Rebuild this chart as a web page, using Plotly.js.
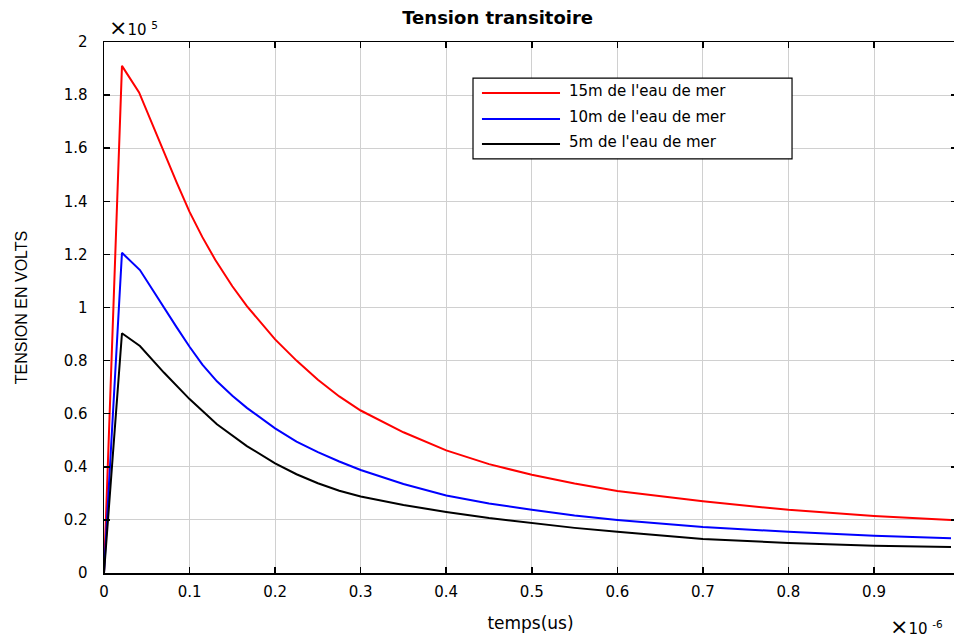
<!DOCTYPE html>
<html>
<head>
<meta charset="utf-8">
<script src="https://cdn.plot.ly/plotly-3.0.1.min.js"></script>
<style>
html,body{margin:0;padding:0;background:#fff;overflow:hidden;width:954px;height:640px;}
#chart{width:957px;height:640px;}
</style>
</head>
<body>
<div id="chart"></div>
<script>
// time in units of 1e-6 s, tension in units of 1e5 V
var tRed   = [0, 0.021, 0.041, 0.055, 0.069, 0.085, 0.1, 0.115, 0.13, 0.15, 0.167, 0.185, 0.2, 0.225, 0.25, 0.275, 0.3, 0.35, 0.4, 0.45, 0.5, 0.55, 0.6, 0.7, 0.8, 0.9, 0.99];
var vRed   = [0, 1.91, 1.81, 1.70, 1.59, 1.47, 1.36, 1.265, 1.18, 1.08, 1.005, 0.935, 0.88, 0.80, 0.728, 0.665, 0.612, 0.53, 0.462, 0.41, 0.37, 0.337, 0.309, 0.27, 0.238, 0.215, 0.2];
var tBlue  = [0, 0.021, 0.042, 0.055, 0.069, 0.085, 0.1, 0.115, 0.132, 0.15, 0.167, 0.185, 0.2, 0.225, 0.25, 0.275, 0.3, 0.35, 0.4, 0.45, 0.5, 0.55, 0.6, 0.7, 0.8, 0.9, 0.99];
var vBlue  = [0, 1.206, 1.141, 1.075, 1.003, 0.925, 0.852, 0.785, 0.722, 0.668, 0.622, 0.58, 0.545, 0.495, 0.455, 0.42, 0.388, 0.335, 0.292, 0.262, 0.238, 0.217, 0.2, 0.173, 0.155, 0.14, 0.131];
var tBlack = [0, 0.021, 0.042, 0.07, 0.1, 0.132, 0.167, 0.2, 0.225, 0.25, 0.275, 0.3, 0.35, 0.4, 0.45, 0.5, 0.55, 0.6, 0.7, 0.8, 0.9, 0.99];
var vBlack = [0, 0.903, 0.855, 0.755, 0.655, 0.56, 0.478, 0.413, 0.372, 0.338, 0.31, 0.288, 0.256, 0.23, 0.207, 0.188, 0.17, 0.155, 0.128, 0.113, 0.103, 0.098];
var seriesNames = ["15m de l'eau de mer", "10m de l'eau de mer", "5m de l'eau de mer"];
var seriesColors = ["#ff0000", "#0000ff", "#000000"];
var xTicks = [0, 0.1, 0.2, 0.3, 0.4, 0.5, 0.6, 0.7, 0.8, 0.9, 1];
var yTicks = [0, 0.2, 0.4, 0.6, 0.8, 1, 1.2, 1.4, 1.6, 1.8, 2];

var xs = [tRed, tBlue, tBlack];
var ys = [vRed, vBlue, vBlack];
var traces = xs.map(function(x, i){
  return {x: x, y: ys[i], type: 'scatter', mode: 'lines', name: seriesNames[i],
          line: {color: seriesColors[i], width: 2}, showlegend: false};
});

// custom legend box (matlab style)
var L = {x0: 0.4326, x1: 0.8066, y0: 0.780, y1: 0.932, lx0: 0.4431, lx1: 0.5346, tx: 0.5428, rows: [0.904, 0.855, 0.808]};
var shapes = [{type: 'rect', xref: 'paper', yref: 'paper', x0: L.x0, x1: L.x1, y0: L.y0, y1: L.y1,
               fillcolor: '#ffffff', line: {color: '#000000', width: 1.2}, layer: 'above'}];
var annotations = [];
seriesNames.forEach(function(n, i){
  shapes.push({type: 'line', xref: 'paper', yref: 'paper', x0: L.lx0, x1: L.lx1, y0: L.rows[i], y1: L.rows[i],
               line: {color: seriesColors[i], width: 2}, layer: 'above'});
  annotations.push({xref: 'paper', yref: 'paper', x: L.tx, y: L.rows[i] + 0.003, xanchor: 'left', yanchor: 'middle',
               text: n, showarrow: false, font: {family: 'DejaVu Sans', size: 15, color: '#000'}});
});
annotations.push({xref: 'paper', yref: 'paper', x: 0.003, y: 1.0, xanchor: 'left', yanchor: 'bottom',
  text: '<span style="font-size:22px">×</span>10 <sup>5</sup>', showarrow: false,
  font: {family: 'DejaVu Sans', size: 15, color: '#000'}});
annotations.push({xref: 'paper', yref: 'paper', x: 0.919, y: -0.128, xanchor: 'left', yanchor: 'bottom',
  text: '<span style="font-size:22px">×</span>10 <sup>-6</sup>', showarrow: false,
  font: {family: 'DejaVu Sans', size: 15, color: '#000'}});

var layout = {
  width: 957, height: 640,
  margin: {l: 104, r: 0, t: 42, b: 67, pad: 0},
  paper_bgcolor: '#ffffff', plot_bgcolor: '#ffffff',
  font: {family: 'DejaVu Sans', size: 15, color: '#000'},
  title: {text: 'Tension transitoire', font: {family: 'DejaVu Sans', size: 18, weight: 'bold', color: '#000'},
          xref: 'container', x: 0.520, xanchor: 'center', yref: 'container', y: 0.972, yanchor: 'middle'},
  xaxis: {range: [0, 0.997], tickvals: xTicks, ticktext: xTicks.map(String), ticks: 'inside', ticklen: 6,
          tickcolor: '#000', tickwidth: 1.5, showline: true, linecolor: '#000', linewidth: 1.5, mirror: 'ticks',
          showgrid: true, gridcolor: '#d0d0d0', gridwidth: 1, zeroline: false, ticklabelstandoff: 4,
          title: {text: 'temps(us)', font: {family: 'DejaVu Sans', size: 17}, standoff: 17}, automargin: false},
  yaxis: {range: [0, 2], tickvals: yTicks, ticktext: yTicks.map(String), ticks: 'inside', ticklen: 6,
          tickcolor: '#000', tickwidth: 1.5, showline: true, linecolor: '#000', linewidth: 1.5, mirror: 'ticks',
          showgrid: true, gridcolor: '#d0d0d0', gridwidth: 1, zeroline: false, ticklabelstandoff: 12,
          title: {text: 'TENSION EN VOLTS', font: {family: 'Liberation Sans', size: 16}, standoff: 32}, automargin: false},
  shapes: shapes,
  annotations: annotations,
  showlegend: false
};
Plotly.newPlot('chart', traces, layout, {displayModeBar: false, staticPlot: true});
</script>
</body>
</html>
